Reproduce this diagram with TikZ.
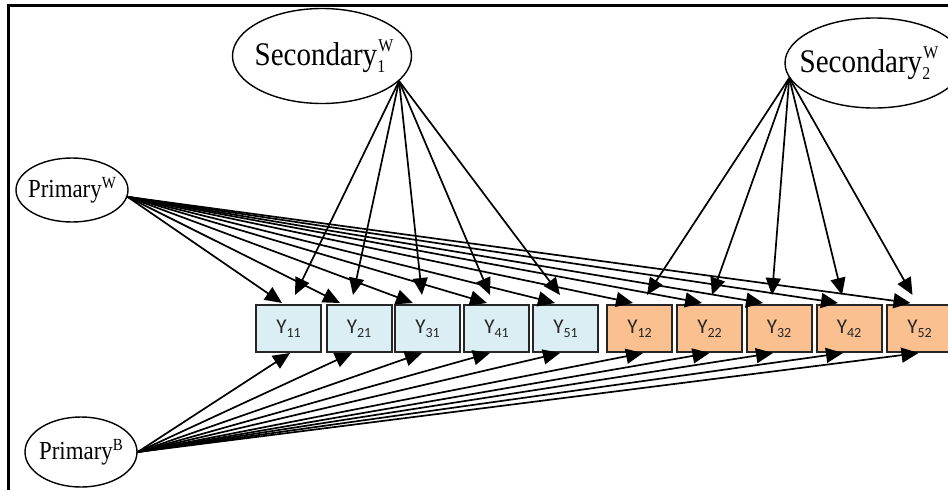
\documentclass[tikz,border=0pt]{standalone}
\usepackage{fontspec}
\setmainfont{Liberation Serif}
\newfontfamily\ellfont{Liberation Serif}[FakeStretch=0.88]
\newfontfamily\boxfont{Carlito}
\usetikzlibrary{arrows.meta,shapes.geometric,calc}

\definecolor{lightblue}{HTML}{DAEEF3}
\definecolor{lightorange}{HTML}{FAC090}
\definecolor{boxedge}{HTML}{262626}

% script pair stacked after a word: #1 above, #2 below
\newcommand\supsub[3]{\makebox[0pt][l]{\hspace{1pt}\raisebox{#3}{\fontsize{18}{18}\selectfont #1}}\raisebox{-7pt}{\fontsize{18}{18}\selectfont #2}\hspace{0.55em}}
% indicator label Y with two-digit index
\newcommand\ylab[1]{{\boxfont\fontsize{21}{24}\selectfont Y\raisebox{-4pt}{\fontsize{14}{15}\selectfont #1}}}
% label that leaves the ellipse at its given size
\newcommand\fixedlab[1]{\makebox[0pt]{#1}}

\begin{document}
\begin{tikzpicture}[x=1pt,y=-1pt,
  latent/.style={ellipse,draw,line width=1.4pt,inner sep=0pt,font=\ellfont},
  indic/.style={rectangle,draw=boxedge,line width=2pt,minimum width=65pt,minimum height=47pt,inner sep=0pt,text=boxedge},
  blueind/.style={indic,fill=lightblue},
  orangeind/.style={indic,fill=lightorange},
  path/.style={line width=1.7pt,-{Triangle[length=17pt,width=15pt]}},
  frameline/.style={line width=3pt}]
\useasboundingbox (0,0) rectangle (948,490);
\clip (0,0) rectangle (948,490);

% frame edges
\coordinate (fl) at (8,490);
\coordinate (fc) at (8,5);
\coordinate (fr) at (960,5);
\draw[frameline] (fl) -- (fc) -- (fr);

% latent factors
\node[latent,minimum width=179pt,minimum height=95pt] (s1) at (322,56)
  {\fixedlab{\hspace{14pt}\fontsize{33}{33}\selectfont Secondary\supsub{W}{1}{14pt}}};
\node[latent,minimum width=178pt,minimum height=90pt] (s2) at (874,63)
  {\fixedlab{\fontsize{33}{33}\selectfont Secondary\supsub{W}{2}{14pt}}};
\node[latent,minimum width=112pt,minimum height=64pt] (pw) at (72,190)
  {\fixedlab{\fontsize{26}{26}\selectfont Primary\raisebox{9pt}{\fontsize{17}{17}\selectfont W}}};
\node[latent,minimum width=112pt,minimum height=70pt] (pb) at (81,452)
  {\fixedlab{\fontsize{26}{26}\selectfont Primary\raisebox{9pt}{\fontsize{17}{17}\selectfont B}}};

% observed indicators
\foreach \n/\x/\lab/\sty in {
  y11/288.5/11/blueind, y21/359/21/blueind, y31/427.5/31/blueind,
  y41/496.5/41/blueind, y51/565.5/51/blueind,
  y12/639.5/12/orangeind, y22/709.5/22/orangeind, y32/779/32/orangeind,
  y42/849/42/orangeind, y52/919.5/52/orangeind}
  \node[\sty] (\n) at (\x,328.5) {\ylab{\lab}};

% secondary factor loadings
\foreach \n/\dx in {y11/6.5, y21/-6, y31/-5.5, y41/-6.5, y51/-5.5}
  \draw[path] (s1.-18) -- ($(\n.north)+(\dx,-9)$);
\foreach \n/\dx in {y12/7.5, y22/2.5, y32/-7, y42/-7, y52/-7}
  \draw[path] (s2.190) -- ($(\n.north)+(\dx,-9)$);

% within-level primary loadings
\foreach \n/\dx in {y11/-6.5, y21/-19, y31/-14.5, y41/-9.5, y51/-10.5,
  y12/-6.5, y22/-7.5, y32/-16, y42/-11, y52/-9}
  \draw[path] (pw.-7) -- ($(\n.north)+(\dx,-1)$);

% between-level primary loadings
\foreach \n/\dx in {y11/1.5, y21/-7, y31/-5.5, y41/-6.5, y51/-5.5,
  y12/3.5, y22/0, y32/-6, y42/-6, y52/-1}
  \draw[path] (pb.0) -- ($(\n.south)+(\dx,0)$);
\end{tikzpicture}
\end{document}
